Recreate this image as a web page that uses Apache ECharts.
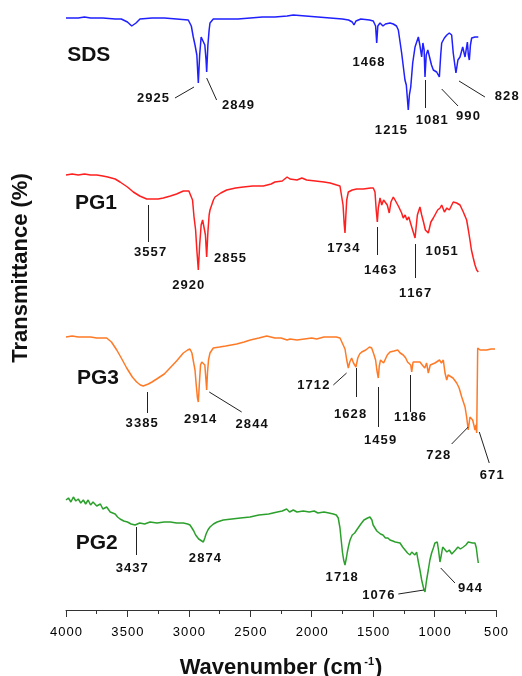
<!DOCTYPE html>
<html>
<head>
<meta charset="utf-8">
<title>FTIR spectra</title>
<script src="https://cdn.jsdelivr.net/npm/echarts@6/dist/echarts.min.js"></script>
<style>
    html, body {margin: 0; padding: 0; background: #fff;}
    #main {width: 522px; height: 676px;}
</style>
</head>
<body>
<div id="main"></div>
<script>
// spectra: [wavenumber cm-1, transmittance (offset, a.u.)]
var sdsData = [[4000,592],[3900,592],[3850,593],[3800,592],[3700,592],[3600,591],[3550,591],[3500,588],[3465,584],[3430,587],[3398,591],[3300,592],[3200,592],[3100,591],[3005,590],[2980,584],[2964,573],[2950,565],[2935,555],[2923,527],[2912,555],[2900,573],[2885,572],[2870,565],[2860,550],[2855,538],[2845,565],[2835,580],[2828,587],[2801,591],[2700,591],[2600,591],[2500,592],[2400,593],[2300,593],[2200,594],[2150,595],[2050,594],[1950,593],[1850,592],[1750,591],[1700,590],[1670,588],[1656,585],[1640,589],[1600,591],[1530,590],[1499,589],[1480,584],[1471,567],[1462,584],[1444,587],[1420,584],[1400,586],[1363,587],[1336,586],[1310,584],[1295,580],[1268,557],[1241,530],[1230,525],[1214,500],[1205,515],[1194,523],[1178,547],[1159,563],[1132,573],[1120,565],[1112,566],[1105,553],[1095,567],[1085,560],[1078,533],[1068,555],[1055,560],[1043,558],[1025,545],[1010,540],[997,538],[983,538],[961,533],[950,555],[942,567],[920,572],[900,575],[880,577],[861,575],[848,557],[835,545],[826,537],[810,550],[793,553],[771,563],[752,553],[733,568],[725,555],[717,550],[708,565],[698,572],[670,573],[644,573]];

var pg1Data = [[4000,435],[3950,436],[3900,435],[3850,436],[3800,435],[3750,435],[3700,434],[3660,433],[3600,431],[3560,428],[3500,423],[3452,418],[3400,414],[3343,411],[3300,411],[3250,411],[3208,412],[3150,414],[3100,416],[3045,419],[3000,419],[2985,417],[2970,410],[2958,393],[2945,380],[2935,360],[2923,340],[2912,365],[2900,385],[2888,390],[2875,388],[2865,375],[2855,353],[2845,378],[2835,395],[2828,400],[2800,410],[2787,413],[2740,417],[2692,420],[2620,422],[2557,423],[2480,424],[2394,424],[2330,426],[2300,428],[2240,429],[2200,433],[2177,431],[2120,430],[2080,432],[2041,430],[1970,429],[1900,428],[1850,427],[1797,425],[1770,424],[1756,422],[1745,405],[1735,385],[1729,377],[1722,395],[1715,410],[1702,418],[1670,420],[1634,421],[1580,421],[1520,422],[1499,422],[1485,418],[1475,400],[1466,388],[1458,402],[1444,412],[1430,405],[1415,410],[1400,408],[1385,405],[1369,397],[1355,408],[1336,413],[1322,410],[1295,404],[1268,397],[1255,392],[1240,395],[1225,390],[1210,393],[1186,383],[1175,385],[1159,372],[1140,395],[1119,403],[1105,395],[1090,388],[1075,380],[1051,377],[1030,388],[1010,392],[997,393],[975,400],[955,402],[942,405],[920,398],[900,402],[880,400],[848,408],[820,407],[793,405],[766,398],[739,390],[725,380],[712,370],[700,360],[685,352],[671,345],[657,340],[644,338]];

var pg3Data = [[4000,273],[3950,274],[3900,273],[3850,273],[3800,273],[3750,272],[3700,272],[3669,272],[3630,268],[3587,260],[3550,252],[3506,242],[3460,233],[3425,228],[3395,225],[3371,224],[3330,226],[3300,228],[3262,231],[3200,236],[3154,242],[3100,249],[3045,257],[3010,260],[2991,261],[2975,257],[2962,248],[2950,240],[2940,225],[2930,212],[2923,208],[2915,225],[2905,245],[2895,248],[2883,250],[2870,245],[2862,232],[2855,220],[2848,238],[2840,250],[2828,257],[2801,262],[2750,263],[2700,264],[2611,266],[2550,268],[2500,270],[2430,272],[2366,274],[2300,272],[2250,272],[2200,270],[2177,271],[2120,270],[2060,271],[2000,272],[1960,271],[1900,273],[1850,273],[1800,273],[1770,272],[1755,268],[1740,264],[1729,261],[1715,250],[1702,242],[1690,248],[1675,252],[1660,247],[1648,245],[1640,243],[1625,252],[1610,256],[1593,258],[1560,260],[1530,263],[1512,262],[1495,256],[1480,250],[1470,240],[1458,232],[1450,244],[1440,250],[1431,252],[1415,247],[1400,245],[1385,255],[1363,258],[1330,259],[1300,260],[1280,257],[1255,255],[1235,252],[1220,248],[1205,250],[1194,245],[1186,238],[1175,248],[1160,250],[1146,248],[1119,248],[1100,245],[1080,242],[1065,247],[1051,237],[1035,245],[1020,243],[997,247],[983,246],[960,250],[944,247],[929,250],[915,237],[901,230],[890,235],[875,237],[850,232],[820,227],[800,222],[779,213],[752,203],[739,193],[726,180],[712,193],[690,190],[680,185],[671,180],[663,185],[657,177],[649,262],[630,260],[600,260],[576,260],[540,261],[508,261]];

var pg2Data = [[4000,110],[3980,112],[3960,108],[3940,113],[3920,109],[3900,111],[3880,107],[3859,110],[3840,106],[3820,110],[3800,105],[3780,108],[3750,104],[3720,106],[3700,101],[3669,103],[3640,98],[3600,96],[3580,93],[3560,91],[3530,89],[3500,88],[3470,86],[3438,85],[3400,87],[3360,86],[3316,88],[3260,87],[3200,88],[3150,88],[3100,87],[3045,87],[3010,86],[2991,85],[2975,82],[2960,79],[2945,75],[2936,73],[2920,71],[2905,70],[2882,68],[2870,72],[2860,76],[2845,80],[2828,83],[2800,86],[2770,88],[2720,90],[2650,91],[2580,92],[2502,93],[2430,95],[2350,96],[2280,98],[2240,99],[2204,101],[2180,98],[2150,100],[2120,98],[2068,99],[2020,98],[1980,99],[1950,97],[1900,98],[1860,97],[1824,96],[1800,95],[1784,92],[1770,82],[1760,70],[1750,58],[1740,50],[1729,45],[1718,52],[1710,58],[1700,64],[1688,70],[1670,75],[1650,77],[1634,80],[1600,86],[1575,90],[1566,89],[1545,92],[1526,93],[1510,90],[1500,85],[1485,82],[1470,79],[1458,77],[1440,76],[1420,75],[1400,72],[1380,72],[1363,70],[1340,69],[1320,68],[1281,67],[1260,63],[1240,60],[1220,57],[1200,55],[1186,58],[1173,58],[1160,55],[1146,58],[1135,50],[1119,40],[1105,30],[1090,22],[1078,18],[1065,30],[1051,40],[1038,50],[1024,57],[1010,62],[997,67],[978,68],[968,60],[956,48],[945,55],[934,63],[920,62],[900,58],[880,60],[860,56],[848,57],[830,60],[810,63],[790,61],[766,63],[745,65],[726,68],[710,66],[690,67],[671,67],[660,62],[650,52],[644,47]];

// sample names and peak annotations [wavenumber, value, text]
var sampleNames = [[3815,555,'SDS'],[3756,407,'PG1'],[3740,232,'PG3'],[3750,67,'PG2']];
var peakLabels = [
    [1538,548,'1468'],[3292,512,'2925'],[2600,505,'2849'],[1355,480,'1215'],[1023,490,'1081'],[728,494,'990'],[413,514,'828'],
    [3316,358,'3557'],[3005,325,'2920'],[2665,352,'2855'],[1743,362,'1734'],[1444,340,'1463'],[1159,317,'1167'],[942,359,'1051'],
    [3384,187,'3385'],[2909,191,'2914'],[2489,186,'2844'],[1987,225,'1712'],[1688,196,'1628'],[1444,170,'1459'],[1200,193,'1186'],[970,155,'728'],[535,135,'671'],
    [3465,42,'3437'],[2869,52,'2874'],[1756,33,'1718'],[1458,15,'1076'],[712,22,'944']
];
var leaderLines = [
    [[3113,512],[2958,523]],[[2855,532],[2774,510]],[[1072,530],[1072,502]],[[942,521],[809,504]],[[801,529],[590,513]],
    [[3330,405],[3330,368]],[[1463,383],[1463,355]],[[1159,366],[1159,332]],
    [[3338,218],[3338,197]],[[2834,218],[2570,198]],[[1824,225],[1716,237]],[[1634,242],[1634,213]],[[1458,223],[1458,183]],[[1194,235],[1194,198]],[[861,166],[726,183]],[[636,178],[555,147]],
    [[3430,83],[3430,55]],[[1295,16],[1086,20]],[[950,42],[834,27]]
];
var xTickInterval = 500;

var font = 'Liberation Sans, Arial, sans-serif';
var chart = echarts.init(document.getElementById('main'));

// the original figure draws digits a little apart
function spaced(s) {
    return String(s).split('').join('\u200a');
}

function spectrum(name, data, color) {
    return {
        name: name,
        type: 'line',
        data: data,
        showSymbol: false,
        clip: false,
        lineStyle: {color: color, width: 1.5},
        z: 2
    };
}

function textSeries(list, size) {
    return {
        type: 'custom',
        coordinateSystem: 'cartesian2d',
        data: list.map(function (d) { return [d[0], d[1]]; }),
        clip: false,
        z: 4,
        renderItem: function (params, api) {
            var p = api.coord([api.value(0), api.value(1)]);
            var txt = list[params.dataIndex][2];
            return {
                type: 'text',
                x: p[0],
                y: p[1],
                style: {
                    text: size > 15 ? txt : spaced(txt),
                    fontFamily: font,
                    fontSize: size,
                    fontWeight: 'bold',
                    fill: '#111',
                    align: 'center',
                    verticalAlign: 'middle'
                }
            };
        }
    };
}

var option = {
    animation: false,
    backgroundColor: '#fff',
    grid: {left: 66, right: 26, top: 0, bottom: 66, outerBoundsMode: 'none'},
    xAxis: {
        type: 'value',
        inverse: true,
        min: 500,
        max: 4000,
        interval: xTickInterval,
        name: '{a|Wavenumber (cm}{s|-1}{a|)}',
        nameLocation: 'middle',
        nameGap: 46,
        nameTextStyle: {
            rich: {
                a: {fontFamily: font, fontSize: 22, fontWeight: 'bold', color: '#111'},
                s: {fontFamily: font, fontSize: 11, fontWeight: 'bold', color: '#111', verticalAlign: 'top', padding: [0, 1, 12, 2]}
            }
        },
        axisLine: {lineStyle: {color: '#333', width: 1}},
        axisTick: {length: 7, lineStyle: {color: '#333'}},
        minorTick: {show: true, splitNumber: 2, length: 4, lineStyle: {color: '#333'}},
        splitLine: {show: false},
        axisLabel: {
            fontFamily: font,
            fontSize: 13,
            color: '#000',
            margin: 16,
            formatter: function (v) { return spaced(v); }
        }
    },
    yAxis: {
        type: 'value',
        min: 0,
        max: 610,
        show: false
    },
    graphic: [{
        type: 'text',
        x: 21,
        y: 268,
        rotation: Math.PI / 2,
        style: {
            text: 'Transmittance (%)',
            fontFamily: font,
            fontSize: 22,
            fontWeight: 'bold',
            fill: '#111',
            align: 'center',
            verticalAlign: 'middle'
        }
    }],
    series: [
        spectrum('SDS', sdsData, '#1f1fff'),
        spectrum('PG1', pg1Data, '#ff1f1f'),
        spectrum('PG3', pg3Data, '#ff7a26'),
        spectrum('PG2', pg2Data, '#2ca02c'),
        {
            type: 'lines',
            coordinateSystem: 'cartesian2d',
            data: leaderLines.map(function (l) { return {coords: l}; }),
            lineStyle: {color: '#222', width: 1, opacity: 1},
            z: 3
        },
        textSeries(peakLabels, 13),
        textSeries(sampleNames, 21)
    ]
};
chart.setOption(option);
</script>
</body>
</html>
